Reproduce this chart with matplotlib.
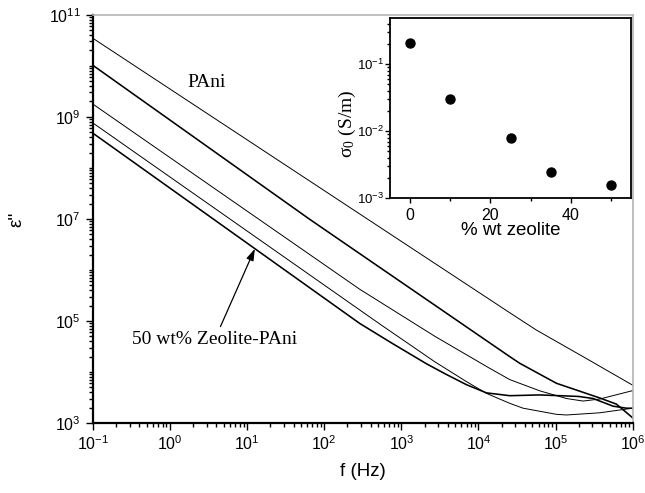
import matplotlib

matplotlib.use("Agg")
import matplotlib.pyplot as plt
import numpy as np
from matplotlib.ticker import FixedLocator, FuncFormatter, LogLocator, NullFormatter

SANS = "Liberation Sans"
SERIF = "Liberation Serif"
plt.rcParams["font.family"] = [SANS, "DejaVu Sans"]

# loss curves, stored as log10(f / Hz) and log10(eps'')
pani_logf = [-1, 4.406, 4.752, 5.356, 6.0]
pani_logeps = [10.54, 5.16, 4.82, 4.30, 3.74]

z10_logf = [-1, 1.813, 4.406, 4.535, 5.011, 5.573, 5.788, 6.0]
z10_logeps = [10.01, 6.99, 4.30, 4.17, 3.778, 3.49, 3.37, 3.10]

z25_logf = [-1, 2.461, 3.433, 4.147, 4.406, 4.795, 5.14, 5.356, 5.573, 6.0]
z25_logeps = [9.25, 5.62, 4.70, 4.07, 3.85, 3.63, 3.48, 3.43, 3.47, 3.635]

z35_logf = [-1, 2.72, 3.433, 3.845, 4.104, 4.406, 4.578, 5.01, 5.14, 5.573, 6.0]
z35_logeps = [8.88, 4.94, 4.20, 3.81, 3.58, 3.385, 3.29, 3.17, 3.157, 3.20, 3.29]

z50_logf = [-1, 2.461, 2.893, 3.326, 3.585, 3.845, 4.104, 4.406, 4.795, 5.054, 5.3, 5.486, 5.745, 5.918, 6.0]
z50_logeps = [8.68, 4.95, 4.55, 4.16, 3.95, 3.75, 3.59, 3.535, 3.55, 3.535, 3.52, 3.48, 3.33, 3.29, 3.29]

# dc conductivity vs zeolite loading (inset)
zeolite_wt = [0, 10, 25, 35, 50]
sigma0 = [0.205, 0.030, 0.0078, 0.00248, 0.00158]

curves = [
    (pani_logf, pani_logeps, 0.7),
    (z10_logf, z10_logeps, 1.15),
    (z25_logf, z25_logeps, 0.7),
    (z35_logf, z35_logeps, 0.7),
    (z50_logf, z50_logeps, 1.15),
]


def pow10(v, pos):
    return r"$\mathregular{10^{%d}}$" % int(round(np.log10(v)))


fig = plt.figure(figsize=(6.45, 4.93), dpi=100)
ax = fig.add_axes([0.144, 0.142, 0.837, 0.828])

for lf, le, lw in curves:
    ax.plot(10 ** np.array(lf), 10 ** np.array(le), color="black", linewidth=lw)

ax.set_xscale("log")
ax.set_yscale("log")
ax.set_xlim(1e-1, 1e6)
ax.set_ylim(1e3, 1e11)
ax.yaxis.set_major_locator(FixedLocator([1e3, 1e5, 1e7, 1e9, 1e11]))
ax.yaxis.set_minor_locator(LogLocator(base=10, subs=np.arange(1, 10), numticks=50))
ax.yaxis.set_minor_formatter(NullFormatter())
ax.yaxis.set_major_formatter(FuncFormatter(pow10))
ax.xaxis.set_major_locator(LogLocator(base=10, numticks=20))
ax.xaxis.set_minor_locator(LogLocator(base=10, subs=np.arange(2, 10), numticks=50))
ax.xaxis.set_minor_formatter(NullFormatter())
ax.xaxis.set_major_formatter(FuncFormatter(pow10))
ax.tick_params(which="both", direction="out", width=1.0, labelsize=11.5)
ax.tick_params(which="major", length=5)
ax.tick_params(which="minor", length=3)

for side in ("left", "bottom"):
    ax.spines[side].set_linewidth(1.6)
for side in ("top", "right"):
    ax.spines[side].set_linewidth(1.2)
    ax.spines[side].set_color("#b4b4b4")

ax.set_xlabel("f (Hz)", fontsize=13.5)
ax.xaxis.set_label_coords(0.5, -0.098)
ax.set_ylabel("ε''", fontsize=13.5)
ax.yaxis.set_label_coords(-0.125, 0.5)

ax.text(2.98, 4.7e9, "PAni", family=SERIF, fontsize=14, ha="center", va="center")
ax.annotate(
    "50 wt% Zeolite-PAni",
    xy=(12.6, 2.6e6),
    xytext=(3.82, 4.4e4),
    family=SERIF,
    fontsize=14,
    ha="center",
    va="center",
    arrowprops=dict(arrowstyle="-|>,head_length=0.5,head_width=0.16", color="black",
                    linewidth=0.9, shrinkA=1, shrinkB=0),
)

# inset: sigma_0 against zeolite content
ins = fig.add_axes([0.605, 0.598, 0.373, 0.3655])
ins.scatter(zeolite_wt, sigma0, s=42, color="black", zorder=3)
ins.set_yscale("log")
ins.set_xlim(-5, 55)
ins.set_ylim(1e-3, 0.49)
ins.xaxis.set_major_locator(FixedLocator([0, 20, 40]))
ins.xaxis.set_minor_locator(FixedLocator([10, 30, 50]))
ins.yaxis.set_major_locator(FixedLocator([1e-3, 1e-2, 1e-1]))
ins.yaxis.set_minor_locator(LogLocator(base=10, subs=np.arange(2, 10), numticks=50))
ins.yaxis.set_minor_formatter(NullFormatter())
ins.yaxis.set_major_formatter(FuncFormatter(pow10))
ins.tick_params(which="both", direction="out", width=1.0)
ins.tick_params(which="major", length=3.5)
ins.tick_params(which="minor", length=2)
ins.tick_params(axis="y", labelsize=9.5, pad=1)
ins.tick_params(axis="x", labelsize=11.5)
for sp in ins.spines.values():
    sp.set_linewidth(1.3)
ins.set_xlabel("% wt zeolite", fontsize=13.5)
ins.xaxis.set_label_coords(0.5, -0.13)
ins.set_ylabel(r"$\mathregular{\sigma_0}$ (S/m)", family=SERIF, fontsize=14)
ins.yaxis.set_label_coords(-0.135, 0.415)

fig.savefig("out.png", dpi=100)
